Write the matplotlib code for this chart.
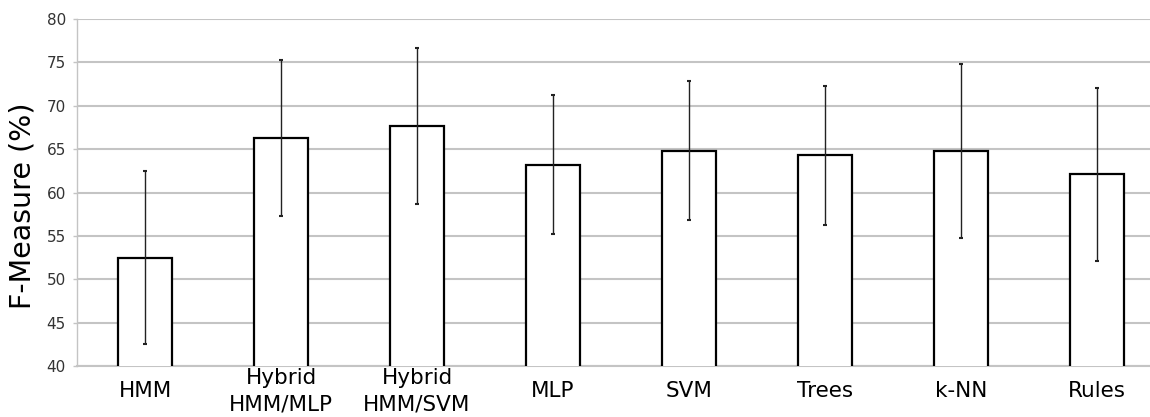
import numpy as np
import matplotlib.pyplot as plt

methods = ['HMM', 'Hybrid\nHMM/MLP', 'Hybrid\nHMM/SVM', 'MLP', 'SVM', 'Trees', 'k-NN', 'Rules']
fmeasure = [52.5, 66.3, 67.7, 63.2, 64.8, 64.3, 64.8, 62.1]
err = [10.0, 9.0, 9.0, 8.0, 8.0, 8.0, 10.0, 10.0]

fig = plt.figure(figsize=(11.5, 4.17), dpi=100)
ax = fig.add_axes([0.067, 0.1223, 0.946, 0.8321])

x = np.arange(len(methods))
ax.bar(x, fmeasure, width=0.40, bottom=0, color='white', edgecolor='black',
       linewidth=1.6, zorder=3)
ax.errorbar(x, fmeasure, yerr=err, fmt='none', ecolor='#222222', elinewidth=1.0,
            capsize=1.5, capthick=1.5, zorder=4)

ax.set_ylim(40, 80)
ax.set_xlim(-0.5, 7.5)
ax.set_yticks(np.arange(40, 81, 5))
ax.yaxis.grid(True, color='#c4c4c4', linewidth=1.5, zorder=0)
ax.set_axisbelow(True)

for s in ['top', 'right']:
    ax.spines[s].set_visible(False)
ax.spines['left'].set_color('#c4c4c4')
ax.spines['left'].set_linewidth(1.0)
ax.spines['bottom'].set_color('#c4c4c4')
ax.spines['bottom'].set_linewidth(1.5)

ax.tick_params(axis='y', length=3, width=1, color='#c4c4c4', pad=5,
               labelsize=11, labelcolor='#333333')
ax.set_xticks(x)
ax.set_xticklabels(methods, fontsize=15.5, linespacing=1.4)
ax.tick_params(axis='x', length=0, pad=18)
for lab in ax.get_xticklabels():
    lab.set_verticalalignment('center')

ax.set_ylabel('F-Measure (%)', fontsize=20.5)
ax.yaxis.set_label_coords(-0.037, 0.461)

fig.savefig('out.png', dpi=100)
